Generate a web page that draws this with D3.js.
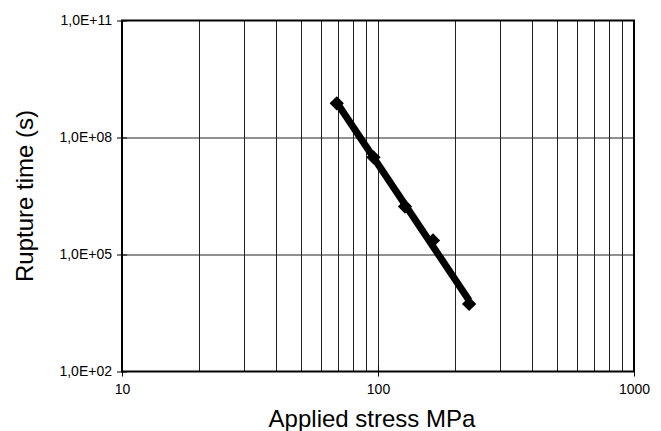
<!DOCTYPE html>
<html>
<head>
<meta charset="utf-8">
<script src="https://cdn.jsdelivr.net/npm/d3@7"></script>
<style>
  body { margin: 0; background: #fff; }
  svg { display: block; font-family: "Liberation Sans", Arial, sans-serif; }
</style>
</head>
<body>
<div id="chart"></div>
<script>
// Data
const stress = [69, 96, 127.5, 164, 227];          // MPa
const ruptureTime = [7.5e8, 3.1e7, 1.7e6, 2.3e5, 5.4e3]; // s
const xTicks = [10, 100, 1000];
const yTicks = [1e2, 1e5, 1e8, 1e11];
const yTickLabels = ["1,0E+02", "1,0E+05", "1,0E+08", "1,0E+11"];

const width = 661, height = 431;
const margin = {top: 20.5, right: 27, bottom: 59.5, left: 122};
const w = width - margin.left - margin.right;
const h = height - margin.top - margin.bottom;

const svg = d3.select("#chart").append("svg")
    .attr("width", width)
    .attr("height", height);

const g = svg.append("g")
    .attr("transform", `translate(${margin.left},${margin.top})`);

const x = d3.scaleLog().domain([10, 1000]).range([0, w]);
const y = d3.scaleLog().domain([1e2, 1e11]).range([h, 0]);

// vertical grid lines at every minor value
const xGrid = [];
[10, 100].forEach(dec => { for (let k = 2; k <= 9; k++) xGrid.push(dec * k); });
xGrid.push(100);

g.selectAll(".vgrid")
    .data(xGrid)
    .enter().append("line")
    .attr("class", "vgrid")
    .attr("x1", d => Math.round(x(d)) + 0.5)
    .attr("x2", d => Math.round(x(d)) + 0.5)
    .attr("y1", 0)
    .attr("y2", h)
    .attr("stroke", "#222")
    .attr("stroke-width", 1);

g.selectAll(".hgrid")
    .data([1e5, 1e8])
    .enter().append("line")
    .attr("class", "hgrid")
    .attr("x1", 0)
    .attr("x2", w)
    .attr("y1", d => Math.round(y(d)) + 0.5)
    .attr("y2", d => Math.round(y(d)) + 0.5)
    .attr("stroke", "#222")
    .attr("stroke-width", 1);

// frame
g.append("rect")
    .attr("width", w)
    .attr("height", h)
    .attr("fill", "none")
    .attr("stroke", "#000")
    .attr("stroke-width", 2);

// axes (ticks crossing the frame)
const xAxis = d3.axisBottom(x).tickValues(xTicks).tickFormat(d3.format("d"))
    .tickSizeInner(5).tickSizeOuter(0).tickPadding(8);
const gx = g.append("g")
    .attr("transform", `translate(0,${h})`)
    .call(xAxis);
gx.select(".domain").remove();
gx.selectAll(".tick line").attr("y1", -5).attr("stroke", "#000");
gx.selectAll(".tick text").attr("font-size", 14).attr("fill", "#000")
    .attr("font-family", "Liberation Sans, Arial, sans-serif");

const yAxis = d3.axisLeft(y).tickValues(yTicks)
    .tickFormat((d, i) => yTickLabels[i])
    .tickSizeInner(5).tickSizeOuter(0).tickPadding(5);
const gy = g.append("g").call(yAxis);
gy.select(".domain").remove();
gy.selectAll(".tick line").attr("x1", 5).attr("stroke", "#000");
gy.selectAll(".tick text").attr("font-size", 14).attr("fill", "#000")
    .attr("font-family", "Liberation Sans, Arial, sans-serif");

// data points
const pts = stress.map((s, i) => [s, ruptureTime[i]]);

// power-law trend line (least squares in log-log space) across the data range
const lx = stress.map(Math.log10), ly = ruptureTime.map(Math.log10);
const mx = d3.mean(lx), my = d3.mean(ly);
const slope = d3.sum(lx, (v, i) => (v - mx) * (ly[i] - my)) / d3.sum(lx, v => (v - mx) ** 2);
const fit = s => Math.pow(10, my + slope * (Math.log10(s) - mx));
const trend = d3.extent(stress).map(s => [s, fit(s)]);

g.append("path")
    .datum(trend)
    .attr("fill", "none")
    .attr("stroke", "#000")
    .attr("stroke-width", 7)
    .attr("d", d3.line().x(d => x(d[0])).y(d => y(d[1])));

g.selectAll(".marker")
    .data(pts)
    .enter().append("path")
    .attr("class", "marker")
    .attr("transform", d => `translate(${x(d[0])},${y(d[1])})`)
    .attr("d", d3.symbol().type(d3.symbolDiamond2).size(130))
    .attr("fill", "#000");

// titles
svg.append("text")
    .attr("x", margin.left + x(100) - 6)
    .attr("y", 427)
    .attr("text-anchor", "middle")
    .attr("font-size", 24)
    .text("Applied stress MPa");

svg.append("text")
    .attr("transform", `translate(33,${margin.top + h / 2}) rotate(-90)`)
    .attr("text-anchor", "middle")
    .attr("font-size", 24)
    .text("Rupture time (s)");
</script>
</body>
</html>
